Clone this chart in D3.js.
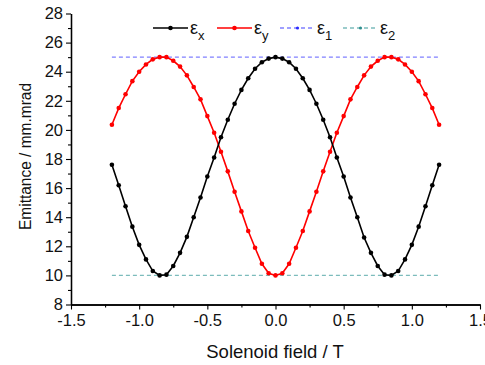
<!DOCTYPE html>
<html>
<head>
<meta charset="utf-8">
<script src="https://cdn.jsdelivr.net/npm/d3@7"></script>
<style>
  html, body { margin: 0; padding: 0; background: #fff; }
  svg { display: block; font-family: "Liberation Sans", Arial, sans-serif; }
</style>
</head>
<body>
<svg id="chart" width="485" height="365"></svg>
<script>
// Solenoid field values (T)
const field = [
  -1.2, -1.15, -1.1, -1.05, -1.0, -0.95, -0.9, -0.85, -0.8, -0.75, -0.7, -0.65, -0.6,
  -0.55, -0.5, -0.45, -0.4, -0.35, -0.3, -0.25, -0.2, -0.15, -0.1, -0.05, 0.0,
  0.05, 0.1, 0.15, 0.2, 0.25, 0.3, 0.35, 0.4, 0.45, 0.5, 0.55, 0.6,
  0.65, 0.7, 0.75, 0.8, 0.85, 0.9, 0.95, 1.0, 1.05, 1.1, 1.15, 1.2
];
// Projected emittance in x (mm.mrad)
const emitX = [
  17.6, 16.2, 14.75, 13.35, 12.1, 11.1, 10.3, 10.0, 10.05, 10.65, 11.55, 12.65, 14.0,
  15.35, 16.8, 18.1, 19.5, 20.7, 21.8, 22.75, 23.55, 24.2, 24.65, 24.9, 25.0,
  24.9, 24.65, 24.2, 23.55, 22.75, 21.8, 20.7, 19.5, 18.1, 16.8, 15.35, 14.0,
  12.6, 11.55, 10.65, 10.05, 10.0, 10.3, 11.1, 12.1, 13.35, 14.75, 16.2, 17.6
];
// Projected emittance in y (mm.mrad)
const emitY = [
  20.35, 21.5, 22.45, 23.35, 24.0, 24.5, 24.85, 25.0, 25.0, 24.75, 24.35, 23.75, 22.95,
  22.1, 20.95, 19.8, 18.5, 17.15, 15.75, 14.4, 13.05, 11.9, 10.8, 10.15, 10.0,
  10.15, 10.8, 11.9, 13.05, 14.4, 15.75, 17.15, 18.5, 19.8, 20.95, 22.1, 22.95,
  23.75, 24.35, 24.75, 25.0, 25.0, 24.85, 24.5, 24.0, 23.35, 22.45, 21.5, 20.35
];
// Eigen-emittances (constant levels)
const eps1 = 25;
const eps2 = 10;
const eigenRange = [-1.2, 1.2];

const xTicks = [-1.5, -1.0, -0.5, 0.0, 0.5, 1.0, 1.5];
const xMinorTicks = [-1.25, -0.75, -0.25, 0.25, 0.75, 1.25];
const yTicks = [8, 10, 12, 14, 16, 18, 20, 22, 24, 26, 28];
const yMinorTicks = [9, 11, 13, 15, 17, 19, 21, 23, 25, 27];

const svg = d3.select("#chart");
const x = d3.scaleLinear().domain([-1.5, 1.5]).range([71, 480]);
const y = d3.scaleLinear().domain([8, 28]).range([304.5, 13.5]);

const textColor = "#111";

// Axes
const gx = svg.append("g").attr("transform", `translate(0,${y(8)})`)
  .call(d3.axisBottom(x).tickValues(xTicks).tickFormat(d3.format(".1f")).tickSize(5).tickSizeOuter(0).tickPadding(4.5));
svg.append("g").attr("transform", `translate(0,${y(8)})`)
  .call(d3.axisBottom(x).tickValues(xMinorTicks).tickFormat("").tickSize(3).tickSizeOuter(0));
const gy = svg.append("g").attr("transform", `translate(${x(-1.5)},0)`)
  .call(d3.axisLeft(y).tickValues(yTicks).tickFormat(d3.format("d")).tickSize(5).tickSizeOuter(0).tickPadding(3));
svg.append("g").attr("transform", `translate(${x(-1.5)},0)`)
  .call(d3.axisLeft(y).tickValues(yMinorTicks).tickFormat("").tickSize(3).tickSizeOuter(0));

svg.selectAll(".domain").attr("stroke", "#000").attr("stroke-width", 1.3);
svg.selectAll(".tick line").attr("stroke", "#000").attr("stroke-width", 1.1);
gx.selectAll(".tick text").attr("font-size", 16.5).attr("fill", textColor)
  .attr("font-family", "Liberation Sans, Arial, sans-serif");
gy.selectAll(".tick text").attr("font-size", 16.5).attr("fill", textColor)
  .attr("font-family", "Liberation Sans, Arial, sans-serif");
// minus sign as a plain hyphen
gx.selectAll(".tick text").text(d => d3.format(".1f")(d).replace("\u2212", "-"));

// Axis titles
svg.append("text").attr("x", 275).attr("y", 358).attr("text-anchor", "middle")
  .attr("font-size", 18.5).attr("fill", textColor).text("Solenoid field / T");
svg.append("text").attr("transform", `translate(31,${(83 + 230) / 2}) rotate(-90)`)
  .attr("text-anchor", "middle").attr("font-size", 16).attr("fill", textColor)
  .attr("textLength", 147).attr("lengthAdjust", "spacingAndGlyphs")
  .text("Emittance / mm.mrad");

// Eigen-emittance reference lines
const hline = (val, color) => svg.append("line")
  .attr("x1", x(eigenRange[0])).attr("x2", x(eigenRange[1]))
  .attr("y1", y(val)).attr("y2", y(val))
  .attr("stroke", color).attr("stroke-width", 1.3).attr("stroke-dasharray", "4,3");
hline(eps1, "#8080ff");
hline(eps2, "#7cbcbc");

// Emittance curves
const pts = vals => field.map((f, i) => [f, vals[i]]);
const line = d3.line().x(d => x(d[0])).y(d => y(d[1]));
function drawSeries(vals, color) {
  const data = pts(vals);
  svg.append("path").datum(data).attr("d", line)
    .attr("fill", "none").attr("stroke", color).attr("stroke-width", 1.6);
  svg.append("g").selectAll("circle").data(data).join("circle")
    .attr("cx", d => x(d[0])).attr("cy", d => y(d[1])).attr("r", 2.3).attr("fill", color);
}
drawSeries(emitY, "#ff0000");
drawSeries(emitX, "#000000");

// Legend
const legend = [
  { sym: "x", color: "#000", marker: "#000", dash: null, r: 2.3, x0: 153 },
  { sym: "y", color: "#ff0000", marker: "#ff0000", dash: null, r: 2.3, x0: 217 },
  { sym: "1", color: "#8080ff", marker: "#2a2aff", dash: "4,3", r: 1.6, x0: 280 },
  { sym: "2", color: "#7cbcbc", marker: "#2e8f8f", dash: "4,3", r: 1.6, x0: 343 }
];
const ly = 28;
legend.forEach(l => {
  const g = svg.append("g");
  g.append("line").attr("x1", l.x0).attr("x2", l.x0 + 35).attr("y1", ly).attr("y2", ly)
    .attr("stroke", l.color).attr("stroke-width", l.dash ? 1.3 : 1.6)
    .attr("stroke-dasharray", l.dash);
  g.append("circle").attr("cx", l.x0 + 17.5).attr("cy", ly).attr("r", l.r).attr("fill", l.marker);
  const t = g.append("text").attr("x", l.x0 + 37).attr("y", ly + 5.5)
    .attr("font-size", 18).attr("fill", textColor);
  t.append("tspan").text("\u03b5");
  t.append("tspan").attr("dy", 6.5).attr("font-size", 13).text(l.sym);
});
</script>
</body>
</html>
